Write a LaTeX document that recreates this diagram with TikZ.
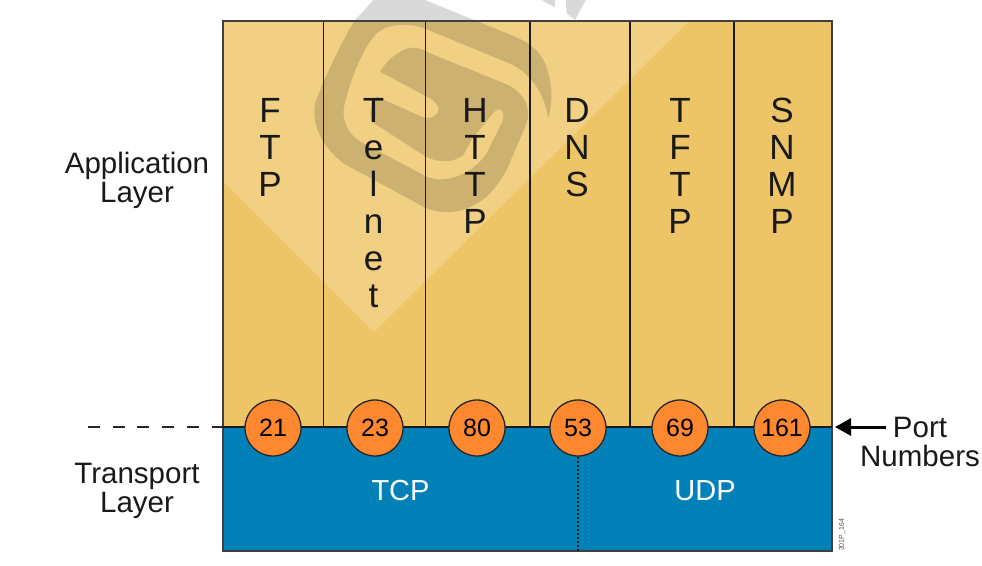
\documentclass[tikz,border=0pt]{standalone}
\usepackage{fontspec}
\setmainfont{Liberation Sans}
\usetikzlibrary{arrows.meta}
\definecolor{appyellow}{HTML}{EEC566}
\definecolor{tcpblue}{HTML}{0281B8}
\definecolor{portorange}{HTML}{FD8830}
\tikzset{
    column/.style={font=\fontsize{35}{37}\selectfont, align=center, anchor=north, text=black!90, inner sep=0pt},
    layer/.style={font=\fontsize{29.5}{29}\selectfont, align=center, text=black!90, inner sep=0pt},
    port/.style={circle, draw=black!85, line width=1.3pt, fill=portorange, minimum size=56pt, inner sep=0pt,
        font=\fontsize{25}{26}\selectfont},
    proto/.style={font=\fontsize{29}{30}\selectfont, text=white, inner sep=0pt}
}
\begin{document}
\begin{tikzpicture}[x=1pt,y=-1pt]
    \useasboundingbox (0,0) rectangle (982,565);

    % Layer fills
    \fill[appyellow] (223,21) rectangle (832,427);
    \fill[tcpblue] (223,427) rectangle (832,551);

    % Light diamond
    \fill[white,opacity=0.2] (223,21) -- (689,21) -- (374,332) -- (223,181) -- cycle;

    % Swirl mark
    \begin{scope}[shift={(300,0)},x=0.3333pt,y=-0.3333pt]
    \fill[black,opacity=0.15]
        (745,355) .. controls (757,310) and (760,250) .. (735,190)
        .. controls (715,145) and (680,125) .. (640,108)
        -- (350,-10) -- (230,-10) -- (165,60)
        .. controls (120,135) and (75,230) .. (45,310)
        .. controls (35,370) and (60,435) .. (130,490)
        -- (370,620) .. controls (430,650) and (500,640) .. (560,590)
        .. controls (590,560) and (605,535) .. (620,510)
        -- (680,370) .. controls (692,330) and (680,285) .. (625,255)
        -- (390,160) .. controls (360,142) and (335,138) .. (310,150)
        .. controls (280,165) and (255,190) .. (240,215)
        -- (390,295) .. controls (420,312) and (425,340) .. (395,352)
        .. controls (385,356) and (375,354) .. (365,350)
        -- (230,290) .. controls (215,310) and (205,340) .. (215,365)
        -- (370,465) .. controls (410,490) and (460,490) .. (490,465)
        -- (520,410) .. controls (560,370) and (575,335) .. (595,328)
        .. controls (612,330) and (615,345) .. (605,370)
        -- (560,460) .. controls (520,520) and (440,555) .. (380,530)
        -- (190,430) .. controls (150,410) and (125,370) .. (132,320)
        .. controls (150,240) and (190,140) .. (230,100)
        .. controls (260,72) and (330,65) .. (380,88)
        -- (640,195) .. controls (690,225) and (730,270) .. (745,355) -- cycle;
    \fill[black,opacity=0.15]
        (797,-5) -- (860,-5) -- (825,60) -- (800,40) -- cycle;
    \fill[black,opacity=0.15]
        (715,-5) -- (765,-5) -- (765,22) -- cycle;
    \end{scope}

    % Column dividers
    \foreach \x in {323.5,425.5,530,630,734} {
        \draw[black!90,line width=1.3pt] (\x,21) -- (\x,427);
    }

    % Outer frame and layer boundary
    \draw[black!75,line width=1.5pt] (223,21) rectangle (832,551);
    \draw[black!90,line width=1.3pt] (223,427) -- (832,427);

    % Dashed lead-in on the left
    \draw[black!85,line width=1.5pt,dash pattern=on 12pt off 12.7pt] (88,427) -- (223,427);

    % Column labels
    \node[column] (ftp) at (270,98) {F\\T\\P};
    \node[column] (telnet) at (373.5,98) {T\\e\\l\\n\\e\\t};
    \node[column] (http) at (475,98) {H\\T\\T\\P};
    \node[column] (dns) at (577,98) {D\\N\\S};
    \node[column] (tftp) at (680,98) {T\\F\\T\\P};
    \node[column] (snmp) at (782,98) {S\\N\\M\\P};

    % Dotted split between TCP and UDP
    \coordinate (split) at (578,551);

    % Port circles
    \node[port] (p21) at (273,428) {21};
    \node[port] (p23) at (375,428) {23};
    \node[port] (p80) at (477,428) {80};
    \node[port] (p53) at (578,428) {53};
    \node[port] (p69) at (680,428) {69};
    \node[port] (p161) at (782,428) {161};
    \draw[black!90,line width=2pt,dash pattern=on 2pt off 2pt] (p53) -- (split);

    % Transport protocols
    \node[proto] (tcp) at (400.5,491) {TCP};
    \node[proto] (udp) at (705,491) {UDP};

    % Side labels
    \node[layer] (app) at (137,180.5) {Application\\Layer};
    \node[layer] (trans) at (137,490.5) {Transport\\Layer};
    \node[layer] (ports) at (920,441.5) {Port\\Numbers};
    \coordinate (edge) at (835,427);
    \draw[-{Triangle[length=16pt,width=17pt]},black,line width=3pt] (886,427) -- (edge);

    % Figure code
    \node[rotate=90,font=\fontsize{7}{8}\selectfont,text=black!70,inner sep=0pt] (code) at (842,535) {301P\_164};
\end{tikzpicture}
\end{document}
